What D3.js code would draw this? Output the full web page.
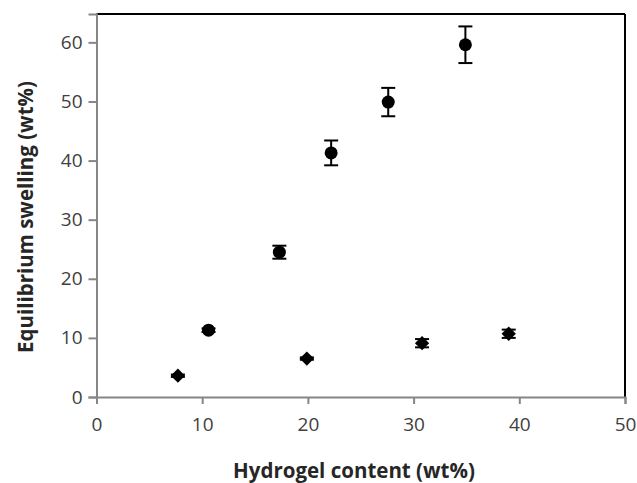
<!DOCTYPE html>
<html>
<head>
<meta charset="utf-8">
<script src="https://cdn.jsdelivr.net/npm/d3@7"></script>
<style>
  body { margin: 0; background: #fff; }
  text { font-family: "Open Sans", sans-serif; }
</style>
</head>
<body>
<div id="chart"></div>
<script>
// data
let circleX = [10.6, 17.3, 22.2, 27.6, 34.9]
let circleY = [11.3, 24.5, 41.3, 49.9, 59.6]
let circleErr = [0.3, 1.1, 2.1, 2.4, 3.1]

let diamondX = [7.7, 19.9, 30.8, 39.0]
let diamondY = [3.6, 6.5, 9.1, 10.7]
let diamondErr = [0.2, 0.2, 0.7, 0.7]

let xTicks = [0, 10, 20, 30, 40, 50]
let yTicks = [0, 10, 20, 30, 40, 50, 60]

let margin = {top: 14, right: 12, bottom: 86, left: 96.5},
    width = 637 - margin.left - margin.right,
    height = 483 - margin.top - margin.bottom

let svg = d3.select("#chart").append("svg")
    .attr("width", 637)
    .attr("height", 483)
    .append("g")
    .attr("transform", "translate(" + margin.left + "," + margin.top + ")")

let x = d3.scaleLinear().domain([0, 50]).range([0, width])
let y = d3.scaleLinear().domain([0, 64.8]).range([height, 0])

// top and right frame
svg.append("line").attr("x1", 0).attr("x2", width).attr("y1", 0).attr("y2", 0)
    .attr("stroke", "#000").attr("stroke-width", 2)
svg.append("line").attr("x1", width).attr("x2", width).attr("y1", 0).attr("y2", height)
    .attr("stroke", "#000").attr("stroke-width", 2)

let xAxis = svg.append("g")
    .attr("transform", "translate(0," + height + ")")
    .call(d3.axisBottom(x).tickValues(xTicks).tickSize(7).tickPadding(14))

let yAxis = svg.append("g")
    .call(d3.axisLeft(y).tickValues(yTicks).tickSize(8).tickPadding(6))

;[xAxis, yAxis].forEach(g => {
    g.select(".domain").attr("stroke", "#868686").attr("stroke-width", 2)
    g.selectAll(".tick line").attr("stroke", "#868686").attr("stroke-width", 2)
    g.selectAll(".tick text").attr("fill", "#404040").style("font-size", "19px")
        .style("font-family", "'Open Sans', sans-serif")
})

// error bars
let errData = circleX.map((d, i) => ({x: d, y: circleY[i], e: circleErr[i]}))
    .concat(diamondX.map((d, i) => ({x: d, y: diamondY[i], e: diamondErr[i]})))

let errs = svg.selectAll(".err").data(errData).enter().append("g").attr("class", "err")
errs.append("line")
    .attr("x1", d => x(d.x)).attr("x2", d => x(d.x))
    .attr("y1", d => y(d.y - d.e)).attr("y2", d => y(d.y + d.e))
    .attr("stroke", "#000").attr("stroke-width", 2)
errs.selectAll(".cap").data(d => [[d.x, d.y - d.e], [d.x, d.y + d.e]]).enter()
    .append("line")
    .attr("x1", d => x(d[0]) - 7).attr("x2", d => x(d[0]) + 7)
    .attr("y1", d => y(d[1])).attr("y2", d => y(d[1]))
    .attr("stroke", "#000").attr("stroke-width", 2)

svg.selectAll(".circ").data(circleX).enter()
    .append("circle")
    .attr("cx", d => x(d))
    .attr("cy", (d, i) => y(circleY[i]))
    .attr("r", 6.5)
    .attr("fill", "#000")

svg.selectAll(".diam").data(diamondX).enter()
    .append("path")
    .attr("d", d3.symbol().type(d3.symbolDiamond2).size(130))
    .attr("transform", (d, i) => "translate(" + x(d) + "," + y(diamondY[i]) + ")")
    .attr("fill", "#000")

// axis titles
svg.append("text")
    .attr("x", 354 - margin.left)
    .attr("y", 478 - margin.top)
    .attr("text-anchor", "middle")
    .style("font-size", "20.5px")
    .style("font-weight", "bold")
    .attr("fill", "#262626")
    .text("Hydrogel content (wt%)")

svg.append("text")
    .attr("transform", "translate(" + (33 - margin.left) + "," + (217 - margin.top) + ") rotate(-90)")
    .attr("text-anchor", "middle")
    .style("font-size", "20.5px")
    .style("font-weight", "bold")
    .attr("fill", "#262626")
    .text("Equilibrium swelling (wt%)")
</script>
</body>
</html>
